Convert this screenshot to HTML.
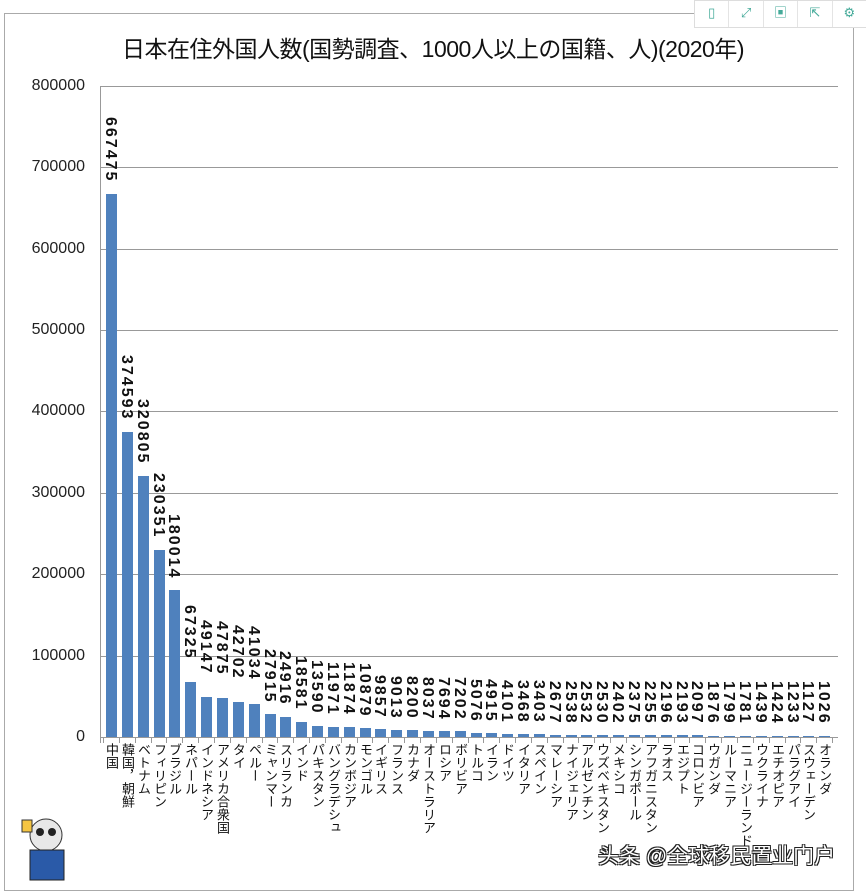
<!DOCTYPE html>
<html><head><meta charset="utf-8"><style>
body{margin:0;width:866px;height:895px;background:#fff;position:relative;overflow:hidden;font-family:"Liberation Sans","Noto Sans CJK JP",sans-serif}
.frame{position:absolute;left:4px;top:13px;width:850px;height:878px;border:1px solid #aaa;box-sizing:border-box}
.title{position:absolute;left:0;width:866px;top:30px;text-align:center;font-size:23px;color:#111;letter-spacing:-0.5px}
.yl{position:absolute;right:781px;font-size:16px;color:#222}
.grid{position:absolute;left:100px;width:738px;height:1px;background:#999}
.c{position:absolute;top:0;width:16px;height:895px}
.c i{position:absolute;left:0;top:737px;width:1px;height:6px;background:#999}
.c b{position:absolute;left:3px;width:11px;background:#4f81bd;display:block}
.c s{position:absolute;left:1px;writing-mode:vertical-rl;font-weight:bold;font-size:16px;letter-spacing:2px;color:#111;line-height:13px;width:13px;text-decoration:none}
.c u{position:absolute;left:1px;top:743px;writing-mode:vertical-rl;font-size:13px;line-height:14px;color:#111;width:14px;text-decoration:none}
.tb{position:absolute;top:0;left:694px;width:172px;height:26px;border:1px solid #ddd;background:#fff;display:flex}
.tb div{flex:1;border-right:1px solid #e4e4e4;color:#4a9;font-size:13px;text-align:center;line-height:24px}
.wm{position:absolute;left:598px;top:840px;font-size:21px;color:#fff;text-shadow:0 0 1px #222,1px 1px 0 #222,-1px -1px 0 #222,1px -1px 0 #222,-1px 1px 0 #222}
</style></head><body>
<div class="frame"></div>
<div class="tb"><div>▯</div><div>⤢</div><div>▣</div><div>⇱</div><div>⚙</div></div>
<div class="title">日本在住外国人数(国勢調査、1000人以上の国籍、人)(2020年)</div>

<div class="grid" style="top:737px"></div><div class="yl" style="top:728px">0</div>
<div class="grid" style="top:656px"></div><div class="yl" style="top:647px">100000</div>
<div class="grid" style="top:574px"></div><div class="yl" style="top:565px">200000</div>
<div class="grid" style="top:493px"></div><div class="yl" style="top:484px">300000</div>
<div class="grid" style="top:411px"></div><div class="yl" style="top:402px">400000</div>
<div class="grid" style="top:330px"></div><div class="yl" style="top:321px">500000</div>
<div class="grid" style="top:249px"></div><div class="yl" style="top:240px">600000</div>
<div class="grid" style="top:167px"></div><div class="yl" style="top:158px">700000</div>
<div class="grid" style="top:86px"></div><div class="yl" style="top:77px">800000</div>
<div style="position:absolute;left:100px;top:86px;width:1px;height:657px;background:#999"></div>

<div class="c" style="left:103px"><i></i><b style="top:194px;height:543px"></b><s style="top:117px">667475</s><u>中国</u></div>
<div class="c" style="left:119px"><i></i><b style="top:432px;height:305px"></b><s style="top:355px">374593</s><u>韓国，朝鮮</u></div>
<div class="c" style="left:135px"><i></i><b style="top:476px;height:261px"></b><s style="top:399px">320805</s><u>ベトナム</u></div>
<div class="c" style="left:151px"><i></i><b style="top:550px;height:187px"></b><s style="top:473px">230351</s><u>フィリピン</u></div>
<div class="c" style="left:166px"><i></i><b style="top:590px;height:147px"></b><s style="top:514px">180014</s><u>ブラジル</u></div>
<div class="c" style="left:182px"><i></i><b style="top:682px;height:55px"></b><s style="top:605px">67325</s><u>ネパール</u></div>
<div class="c" style="left:198px"><i></i><b style="top:697px;height:40px"></b><s style="top:620px">49147</s><u>インドネシア</u></div>
<div class="c" style="left:214px"><i></i><b style="top:698px;height:39px"></b><s style="top:621px">47875</s><u>アメリカ合衆国</u></div>
<div class="c" style="left:230px"><i></i><b style="top:702px;height:35px"></b><s style="top:625px">42702</s><u>タイ</u></div>
<div class="c" style="left:246px"><i></i><b style="top:704px;height:33px"></b><s style="top:626px">41034</s><u>ペルー</u></div>
<div class="c" style="left:262px"><i></i><b style="top:714px;height:23px"></b><s style="top:649px">27915</s><u>ミャンマー</u></div>
<div class="c" style="left:277px"><i></i><b style="top:717px;height:20px"></b><s style="top:651px">24916</s><u>スリランカ</u></div>
<div class="c" style="left:293px"><i></i><b style="top:722px;height:15px"></b><s style="top:656px">18581</s><u>インド</u></div>
<div class="c" style="left:309px"><i></i><b style="top:726px;height:11px"></b><s style="top:660px">13590</s><u>パキスタン</u></div>
<div class="c" style="left:325px"><i></i><b style="top:727px;height:10px"></b><s style="top:662px">11971</s><u>バングラデシュ</u></div>
<div class="c" style="left:341px"><i></i><b style="top:727px;height:10px"></b><s style="top:662px">11874</s><u>カンボジア</u></div>
<div class="c" style="left:357px"><i></i><b style="top:728px;height:9px"></b><s style="top:663px">10879</s><u>モンゴル</u></div>
<div class="c" style="left:372px"><i></i><b style="top:729px;height:8px"></b><s style="top:675px">9857</s><u>イギリス</u></div>
<div class="c" style="left:388px"><i></i><b style="top:730px;height:7px"></b><s style="top:676px">9013</s><u>フランス</u></div>
<div class="c" style="left:404px"><i></i><b style="top:730px;height:7px"></b><s style="top:676px">8200</s><u>カナダ</u></div>
<div class="c" style="left:420px"><i></i><b style="top:731px;height:6px"></b><s style="top:677px">8037</s><u>オーストラリア</u></div>
<div class="c" style="left:436px"><i></i><b style="top:731px;height:6px"></b><s style="top:677px">7694</s><u>ロシア</u></div>
<div class="c" style="left:452px"><i></i><b style="top:731px;height:6px"></b><s style="top:677px">7202</s><u>ボリビア</u></div>
<div class="c" style="left:468px"><i></i><b style="top:733px;height:4px"></b><s style="top:679px">5076</s><u>トルコ</u></div>
<div class="c" style="left:483px"><i></i><b style="top:733px;height:4px"></b><s style="top:679px">4915</s><u>イラン</u></div>
<div class="c" style="left:499px"><i></i><b style="top:734px;height:3px"></b><s style="top:680px">4101</s><u>ドイツ</u></div>
<div class="c" style="left:515px"><i></i><b style="top:734px;height:3px"></b><s style="top:680px">3468</s><u>イタリア</u></div>
<div class="c" style="left:531px"><i></i><b style="top:734px;height:3px"></b><s style="top:680px">3403</s><u>スペイン</u></div>
<div class="c" style="left:547px"><i></i><b style="top:735px;height:2px"></b><s style="top:681px">2677</s><u>マレーシア</u></div>
<div class="c" style="left:563px"><i></i><b style="top:735px;height:2px"></b><s style="top:681px">2538</s><u>ナイジェリア</u></div>
<div class="c" style="left:578px"><i></i><b style="top:735px;height:2px"></b><s style="top:681px">2532</s><u>アルゼンチン</u></div>
<div class="c" style="left:594px"><i></i><b style="top:735px;height:2px"></b><s style="top:681px">2530</s><u>ウズベキスタン</u></div>
<div class="c" style="left:610px"><i></i><b style="top:735px;height:2px"></b><s style="top:681px">2402</s><u>メキシコ</u></div>
<div class="c" style="left:626px"><i></i><b style="top:735px;height:2px"></b><s style="top:681px">2375</s><u>シンガポール</u></div>
<div class="c" style="left:642px"><i></i><b style="top:735px;height:2px"></b><s style="top:681px">2255</s><u>アフガニスタン</u></div>
<div class="c" style="left:658px"><i></i><b style="top:735px;height:2px"></b><s style="top:681px">2196</s><u>ラオス</u></div>
<div class="c" style="left:674px"><i></i><b style="top:735px;height:2px"></b><s style="top:681px">2193</s><u>エジプト</u></div>
<div class="c" style="left:689px"><i></i><b style="top:735px;height:2px"></b><s style="top:681px">2097</s><u>コロンビア</u></div>
<div class="c" style="left:705px"><i></i><b style="top:736px;height:1px"></b><s style="top:681px">1876</s><u>ウガンダ</u></div>
<div class="c" style="left:721px"><i></i><b style="top:736px;height:1px"></b><s style="top:681px">1799</s><u>ルーマニア</u></div>
<div class="c" style="left:737px"><i></i><b style="top:736px;height:1px"></b><s style="top:681px">1781</s><u>ニュージーランド</u></div>
<div class="c" style="left:753px"><i></i><b style="top:736px;height:1px"></b><s style="top:681px">1439</s><u>ウクライナ</u></div>
<div class="c" style="left:769px"><i></i><b style="top:736px;height:1px"></b><s style="top:681px">1424</s><u>エチオピア</u></div>
<div class="c" style="left:785px"><i></i><b style="top:736px;height:1px"></b><s style="top:681px">1233</s><u>パラグアイ</u></div>
<div class="c" style="left:800px"><i></i><b style="top:736px;height:1px"></b><s style="top:681px">1127</s><u>スウェーデン</u></div>
<div class="c" style="left:816px"><i></i><b style="top:736px;height:1px"></b><s style="top:681px">1026</s><u>オランダ</u></div>
<div style="position:absolute;left:832px;top:737px;width:1px;height:6px;background:#999"></div>

<div class="wm">头条 @全球移民置业门户</div>
<svg style="position:absolute;left:14px;top:810px" width="70" height="75"><circle cx="32" cy="25" r="16" fill="#e8e8e8" stroke="#333"/><circle cx="26" cy="22" r="4" fill="#222"/><circle cx="38" cy="22" r="4" fill="#222"/><rect x="16" y="40" width="34" height="30" fill="#2a5aa8" stroke="#222"/><rect x="8" y="10" width="10" height="12" fill="#f5c542" stroke="#333"/></svg>
</body></html>
